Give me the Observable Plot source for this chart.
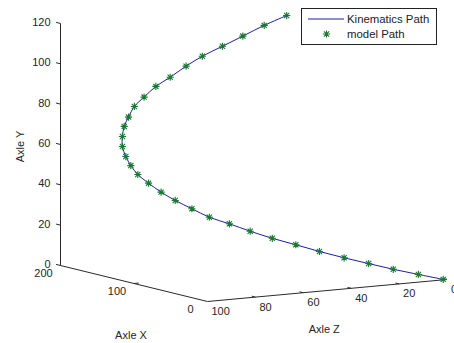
<!DOCTYPE html>
<html><head><meta charset="utf-8">
<script src="https://cdn.jsdelivr.net/npm/d3@7"></script>
<script src="https://cdn.jsdelivr.net/npm/@observablehq/plot@0.6"></script>
<style>
body{margin:0;background:#fff;}
#wrap{position:relative;width:454px;height:343px;font-family:"Liberation Sans",Arial,Helvetica,sans-serif;}
#legend{position:absolute;left:301px;top:8px;width:134px;height:35px;border:1px solid #222;background:#fff;font-size:11.4px;color:#222;}
#legend .t{position:absolute;left:45px;line-height:12px;white-space:nowrap;}
#legend svg{position:absolute;left:0;top:0;}
</style></head><body><div id="wrap"></div>
<script>
// 3D path data (bottom end -> top end), units of the axes
const pathX = [1.9,14.8,27.8,40.5,53.3,66.0,78.3,90.4,101.9,112.6,122.9,132.0,140.7,147.9,154.5,160.0,163.6,166.2,167.9,167.9,167.1,164.8,161.7,156.7,150.7,143.3,135.0,126.6,116.2,105.7,94.6,82.9];
const pathY = [0,2.0,4.1,6.5,8.9,11.6,14.5,17.3,20.4,23.7,26.6,30.5,34.3,38.2,42.4,46.5,50.8,55.2,60.1,65.1,70.1,74.8,80.2,85.0,90.5,95.3,101.1,106.3,111.6,117.0,122.7,128.0];
const pathZ = [1.0,7.4,13.9,20.3,26.6,33.0,39.1,45.2,50.9,56.3,61.5,66.0,70.3,74.0,77.2,80.0,81.8,83.1,84.0,84.0,83.5,82.4,80.9,78.4,75.3,71.6,67.5,63.3,58.1,52.8,47.3,41.5];
const xTicks = [0,100,200];
const yTicks = [0,20,40,60,80,100,120];
const zTicks = [0,20,40,60,80,100];
const seriesNames = ["Kinematics Path","model Path"];
const axisTitles = ["Axle X","Axle Y","Axle Z"];
const xLim = [0,200], yLim = [0,120], zLim = [0,100];

// camera (oblique 3D view) : screen = origin + X*ex + Y*ey + Z*ez
const view = {ox:446.5, oy:279, ex:[-0.735,-0.18], ey:[0,-2.017], ez:[-2.395,0.22]};
function proj(X,Y,Z){
  return [view.ox + X*view.ex[0] + Y*view.ey[0] + Z*view.ez[0],
          view.oy + X*view.ex[1] + Y*view.ey[1] + Z*view.ez[1]];
}

const lineColor = "#1f1f9a";
const starColor = "#177a30";
const axisColor = "#2a2a2a";
const textColor = "#262626";

const asterisk = {
  draw(ctx, size){
    const r = Math.sqrt(size/Math.PI);
    const d = r*0.72;
    ctx.moveTo(-r,0); ctx.lineTo(r,0);
    ctx.moveTo(0,-r); ctx.lineTo(0,r);
    ctx.moveTo(-d,-d); ctx.lineTo(d,d);
    ctx.moveTo(-d,d); ctx.lineTo(d,-d);
  }
};

const pts = pathX.map((x,i)=>{const [u,v]=proj(x,pathY[i],pathZ[i]); return {u,v};});

const segs = [
  {a:proj(xLim[1],yLim[0],zLim[1]), b:proj(xLim[1],yLim[1],zLim[1])},
  {a:proj(xLim[1],yLim[0],zLim[1]), b:proj(xLim[0],yLim[0],zLim[1])},
  {a:proj(xLim[0],yLim[0],zLim[1]), b:proj(xLim[0],yLim[0],zLim[0])}
];
const yTickSegs = yTicks.map(t=>({a:proj(xLim[1],t,zLim[1]), b:proj(xLim[1]+6,t,zLim[1])}));
const xTickSegs = xTicks.slice(1,2).map(t=>({a:proj(t,yLim[0],zLim[1]), b:proj(t,yLim[0],zLim[1]-2)}));
const zTickSegs = zTicks.slice(0,-1).map(t=>({a:proj(xLim[0],yLim[0],t), b:proj(xLim[0]+5,yLim[0],t)}));
const allSegs = segs.concat(yTickSegs, xTickSegs, zTickSegs);

const yLab = yTicks.map(t=>{const [u,v]=proj(xLim[1],t,zLim[1]); return {u,v,s:String(t)};});
const xLab = xTicks.map(t=>{const [u,v]=proj(t,yLim[0],zLim[1]); return {u,v,s:String(t)};});
const zLab = zTicks.map(t=>{const [u,v]=proj(xLim[0],yLim[0],t); return {u,v,s:String(t)};});

const tX = proj((xLim[0]+xLim[1])/2, yLim[0], zLim[1]);
const tY = proj(xLim[1], (yLim[0]+yLim[1])/2, zLim[1]);
const tZ = proj(xLim[0], yLim[0], (zLim[0]+zLim[1])/2);
const titles = [
  {u:tX[0]-3, v:tX[1]+52, s:axisTitles[0], r:0},
  {u:tY[0]-40, v:tY[1]+2, s:axisTitles[1], r:-90},
  {u:tZ[0]-3, v:tZ[1]+39, s:axisTitles[2], r:0}
];

const chart = Plot.plot({
  width:454, height:343, margin:0,
  x:{type:"identity", axis:null},
  y:{type:"identity", axis:null},
  style:{fontFamily:"'Liberation Sans', Arial, Helvetica, sans-serif", fontSize:"11px", background:"#fff"},
  marks:[
    Plot.link(allSegs,{x1:d=>d.a[0],y1:d=>d.a[1],x2:d=>d.b[0],y2:d=>d.b[1],stroke:axisColor,strokeWidth:1}),
    Plot.text(yLab,{x:"u",y:"v",text:"s",textAnchor:"end",dx:-10,dy:-1,fill:textColor,fontSize:11}),
    Plot.text(xLab,{x:"u",y:"v",text:"s",dx:-17,dy:8,fill:textColor,fontSize:11}),
    Plot.text(zLab,{x:"u",y:"v",text:"s",textAnchor:"start",dx:4,dy:10,fill:textColor,fontSize:11}),
    Plot.text(titles,{x:"u",y:"v",text:"s",rotate:"r",fill:textColor,fontSize:11}),
    Plot.line(pts,{x:"u",y:"v",curve:"catmull-rom",stroke:lineColor,strokeWidth:1}),
    Plot.dot(pts,{x:"u",y:"v",symbol:asterisk,r:3.6,fill:"none",stroke:starColor,strokeWidth:1.1})
  ]
});
const wrap = document.getElementById("wrap");
wrap.appendChild(chart);

const leg = document.createElement("div");
leg.id = "legend";
const starPath = (()=>{const p=d3.path(); asterisk.draw(p, 3.6*3.6*Math.PI); return p.toString();})();
leg.innerHTML =
  `<svg width="134" height="35"><line x1="6" x2="42" y1="10" y2="10" stroke="${lineColor}" stroke-width="1"/>`+
  `<path d="${starPath}" transform="translate(24.5,25)" fill="none" stroke="${starColor}" stroke-width="1.1"/></svg>`+
  `<div class="t" style="top:4px">${seriesNames[0]}</div>`+
  `<div class="t" style="top:19px">${seriesNames[1]}</div>`;
wrap.appendChild(leg);
</script>
</body></html>
